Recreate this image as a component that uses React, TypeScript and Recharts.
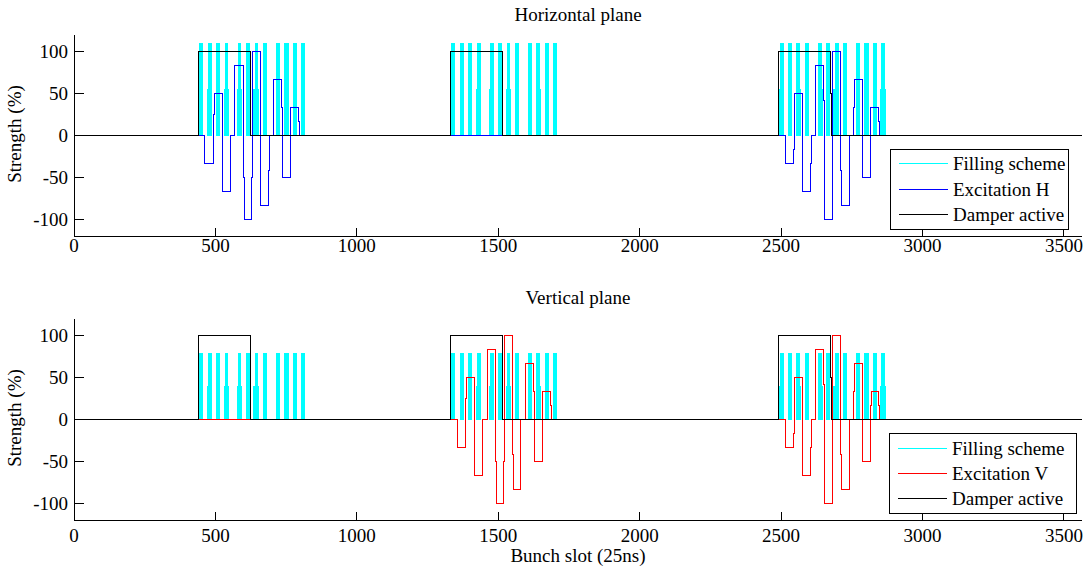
import React from 'react';
import { ComposedChart, Area, Line, XAxis, YAxis } from 'recharts';

const X_MAX = 3564;
const xTicks = [0, 500, 1000, 1500, 2000, 2500, 3000, 3500];
const yTicks = [-100, -50, 0, 50, 100];

// filled bunch trains (slot ranges), full height
const fullBars: [number, number][] = [
  [442, 456], [474, 488], [502, 516], [534, 544], [581, 592], [609, 623], [641, 652], [669, 684], [715, 727], [744, 759], [775, 790], [804, 817],
  [1333, 1347], [1365, 1379], [1393, 1407], [1425, 1439], [1470, 1484], [1499, 1513], [1531, 1543], [1559, 1573], [1605, 1619], [1633, 1648], [1665, 1679], [1694, 1708],
  [2496, 2510], [2524, 2539], [2553, 2567], [2585, 2599], [2632, 2646], [2660, 2674], [2692, 2706], [2720, 2734], [2766, 2778], [2794, 2811], [2826, 2840], [2855, 2869],
];
// half-height parts of the filling scheme
const halfBars: [number, number][] = [
  [469, 474], [530, 548], [576, 595], [634, 653], [744, 760],
  [1420, 1439], [1467, 1484], [1527, 1545], [1633, 1651],
  [2493, 2510], [2553, 2571], [2632, 2649], [2685, 2706], [2794, 2811], [2851, 2871],
];
const fillLevelH = [110, 55];
const fillLevelV = [80, 40];

// excitation steps [slot, strength %]
const excitationH: [number, number][] = [
  [0, 0],
  [463, -33.3], [493, 25], [496, 50], [524.5, -66.7], [553, 0], [569, 83.3], [599, -50], [602, -100], [627, -50], [630.5, 100],
  [659, -83.3], [688, -41.7], [692, 0], [705, 66.7], [734, 33.3], [738, -50], [765, 33.3], [793, 16.7], [797, 0],
  [2514, -33.3], [2543.4, -16.7], [2547, 50], [2575, -66.7], [2603.5, -33.3], [2607, 0], [2620, 83.3], [2649.4, 41.7], [2653, -100],
  [2681.3, 100], [2709.5, -41.7], [2713, -83.3], [2742.6, 0], [2755.5, 33.3], [2759, 66.7], [2787.3, -50], [2815.6, 33.3], [2844, 16.7], [2847.4, 0],
  [X_MAX, 0],
];
const excitationV: [number, number][] = [
  [0, 0],
  [1355.3, -33.3], [1383.6, 25], [1387.2, 50], [1415.5, -66.7], [1443.7, 0], [1461.4, 83.3], [1489.7, -50], [1493.2, -100], [1518, -50],
  [1521.5, 100], [1549.8, -41.7], [1553.4, -83.3], [1578.1, 0], [1597, 66.7], [1624.1, 33.3], [1627.6, -50], [1655.9, 33.3], [1684.2, 16.7], [1687.7, 0],
  [2514, -33.3], [2543.4, -16.7], [2547, 50], [2575.2, -66.7], [2603.5, -33.3], [2607, 0], [2621.1, 83.3], [2649.4, 41.7], [2653, -100],
  [2681.3, 100], [2709.5, -41.7], [2713.1, -83.3], [2741.3, 0], [2755.5, 33.3], [2759, 66.7], [2787.3, -50], [2815.6, 16.7], [2819.1, 33.3], [2843.9, 16.7], [2847.4, 0],
  [X_MAX, 0],
];
const damperH: [number, number][] = [
  [0, 0], [439.6, 100], [623.5, 0], [1331.8, 100], [1514.5, 0], [2490.3, 100], [2674.2, 50], [2677.7, 0], [X_MAX, 0],
];
const damperV: [number, number][] = [
  [0, 0], [439.6, 100], [623.5, 0], [1331.8, 100], [1514.5, 0], [2490.3, 100], [2674.2, 50], [2677.7, 0], [X_MAX, 0],
];

const FONT = "'Liberation Serif', 'Times New Roman', serif";
const FS = 19;

function buildFill(levels: number[]) {
  const edges = Array.from(new Set([...fullBars.flat(), ...halfBars.flat()])).sort((a, b) => a - b);
  const level = (x: number) =>
    fullBars.some(([a, b]) => x >= a && x < b) ? levels[0] : halfBars.some(([a, b]) => x >= a && x < b) ? levels[1] : 0;
  const pts = [{ x: 0, v: 0 }];
  edges.forEach((e) => pts.push({ x: e, v: level(e) }));
  pts.push({ x: X_MAX, v: 0 });
  return pts;
}
const toPts = (arr: [number, number][]) => arr.map(([x, v]) => ({ x, v }));

const makeBottomTick = (dy: number) => (props: any) => {
  const { x, y, payload } = props;
  return (
    <g>
      <line x1={x} y1={y} x2={x} y2={y - 8} stroke="#000" shapeRendering="crispEdges" />
      <text x={x} y={y + dy} textAnchor="middle" fontFamily={FONT} fontSize={FS} fill="#000">{payload.value}</text>
    </g>
  );
};
const TopTick = (props: any) => {
  const { x, y } = props;
  return <line x1={x} y1={y} x2={x} y2={y + 8} stroke="#000" shapeRendering="crispEdges" />;
};
const LeftTick = (props: any) => {
  const { x, y, payload } = props;
  return (
    <g>
      <line x1={x} y1={y} x2={x + 10} y2={y} stroke="#000" shapeRendering="crispEdges" />
      <text x={x - 6} y={y + 6.5} textAnchor="end" fontFamily={FONT} fontSize={FS} fill="#000">{payload.value}</text>
    </g>
  );
};
const RightTick = (props: any) => {
  const { x, y } = props;
  return <line x1={x} y1={y} x2={x - 10} y2={y} stroke="#000" shapeRendering="crispEdges" />;
};

function Panel(props: { levels: number[]; exc: [number, number][]; damper: [number, number][]; excColor: string; height: number; bottom: number; labelDy: number }) {
  const fill = buildFill(props.levels);
  return (
    <ComposedChart width={1091} height={props.height} margin={{ top: 35, right: 9, bottom: props.bottom, left: 0 }}>
      <XAxis xAxisId="b" type="number" dataKey="x" domain={[0, X_MAX]} ticks={xTicks} interval={0} height={24}
        tickSize={0} tickMargin={0} tickLine={false} axisLine={{ stroke: '#000' }} tick={makeBottomTick(props.labelDy)} allowDataOverflow />
      <XAxis xAxisId="t" orientation="top" type="number" dataKey="x" domain={[0, X_MAX]} ticks={xTicks} interval={0} height={0}
        tickSize={0} tickMargin={0} tickLine={false} axisLine={{ stroke: '#000' }} tick={TopTick} allowDataOverflow />
      <YAxis yAxisId="l" type="number" domain={[-120, 120]} ticks={yTicks} interval={0} width={74}
        tickSize={0} tickMargin={0} tickLine={false} axisLine={{ stroke: '#000' }} tick={LeftTick} allowDataOverflow />
      <YAxis yAxisId="r" orientation="right" type="number" domain={[-120, 120]} ticks={yTicks} interval={0} width={0}
        tickSize={0} tickMargin={0} tickLine={false} axisLine={{ stroke: '#000' }} tick={RightTick} allowDataOverflow />
      <Area xAxisId="b" yAxisId="l" data={fill} dataKey="v" type="stepAfter" stroke="none" fill="#00ffff" fillOpacity={1}
        baseValue={0} isAnimationActive={false} dot={false} activeDot={false} />
      <Line xAxisId="b" yAxisId="l" data={toPts(props.exc)} dataKey="v" type="stepAfter" stroke={props.excColor} strokeWidth={1}
        dot={false} activeDot={false} isAnimationActive={false} />
      <Line xAxisId="b" yAxisId="l" data={toPts(props.damper)} dataKey="v" type="stepAfter" stroke="#000" strokeWidth={1}
        dot={false} activeDot={false} isAnimationActive={false} />
    </ComposedChart>
  );
}

function LegendBox(props: { x: number; y: number; w: number; h: number; rows: number[]; items: { label: string; color: string }[] }) {
  const { x, y, w, h, rows, items } = props;
  return (
    <g>
      <rect x={x + 0.5} y={y + 0.5} width={w} height={h} fill="#fff" stroke="#000" strokeWidth={1} shapeRendering="crispEdges" />
      {items.map((it, i) => (
        <g key={it.label}>
          <line x1={x + 9} x2={x + 58} y1={rows[i] + 0.5} y2={rows[i] + 0.5} stroke={it.color} strokeWidth={1} shapeRendering="crispEdges" />
          <text x={x + 63} y={rows[i] + 6.5} fontFamily={FONT} fontSize={FS} fill="#000">{it.label}</text>
        </g>
      ))}
    </g>
  );
}

export default function App() {
  return (
    <div style={{ position: 'absolute', left: 0, top: 0, width: 1091, height: 572, background: '#fff' }}>
      <style>{`.recharts-curve, .recharts-area-area, .recharts-cartesian-axis-line { shape-rendering: crispEdges; }`}</style>
      <div style={{ position: 'absolute', left: 0, top: 0 }}>
        <Panel levels={fillLevelH} exc={excitationH} damper={damperH} excColor="#0000ff" height={260} bottom={0} labelDy={16} />
      </div>
      <div style={{ position: 'absolute', left: 0, top: 284 }}>
        <Panel levels={fillLevelV} exc={excitationV} damper={damperV} excColor="#ff0000" height={288} bottom={28} labelDy={22} />
      </div>
      <svg width={1091} height={572} style={{ position: 'absolute', left: 0, top: 0, pointerEvents: 'none' }}>
        <text x={578} y={21} textAnchor="middle" fontFamily={FONT} fontSize={FS} fill="#000">Horizontal plane</text>
        <text x={578} y={304} textAnchor="middle" fontFamily={FONT} fontSize={FS} fill="#000">Vertical plane</text>
        <text x={578} y={562} textAnchor="middle" fontFamily={FONT} fontSize={FS} fill="#000">Bunch slot (25ns)</text>
        <text transform="translate(21,134) rotate(-90)" textAnchor="middle" fontFamily={FONT} fontSize={FS} fill="#000">Strength (%)</text>
        <text transform="translate(21,418) rotate(-90)" textAnchor="middle" fontFamily={FONT} fontSize={FS} fill="#000">Strength (%)</text>
        <LegendBox x={890} y={149} w={178} h={80} rows={[163, 189, 214]}
          items={[{ label: 'Filling scheme', color: '#00ffff' }, { label: 'Excitation H', color: '#0000ff' }, { label: 'Damper active', color: '#000' }]} />
        <LegendBox x={889} y={433} w={187} h={80} rows={[448, 473, 498]}
          items={[{ label: 'Filling scheme', color: '#00ffff' }, { label: 'Excitation V', color: '#ff0000' }, { label: 'Damper active', color: '#000' }]} />
      </svg>
    </div>
  );
}
